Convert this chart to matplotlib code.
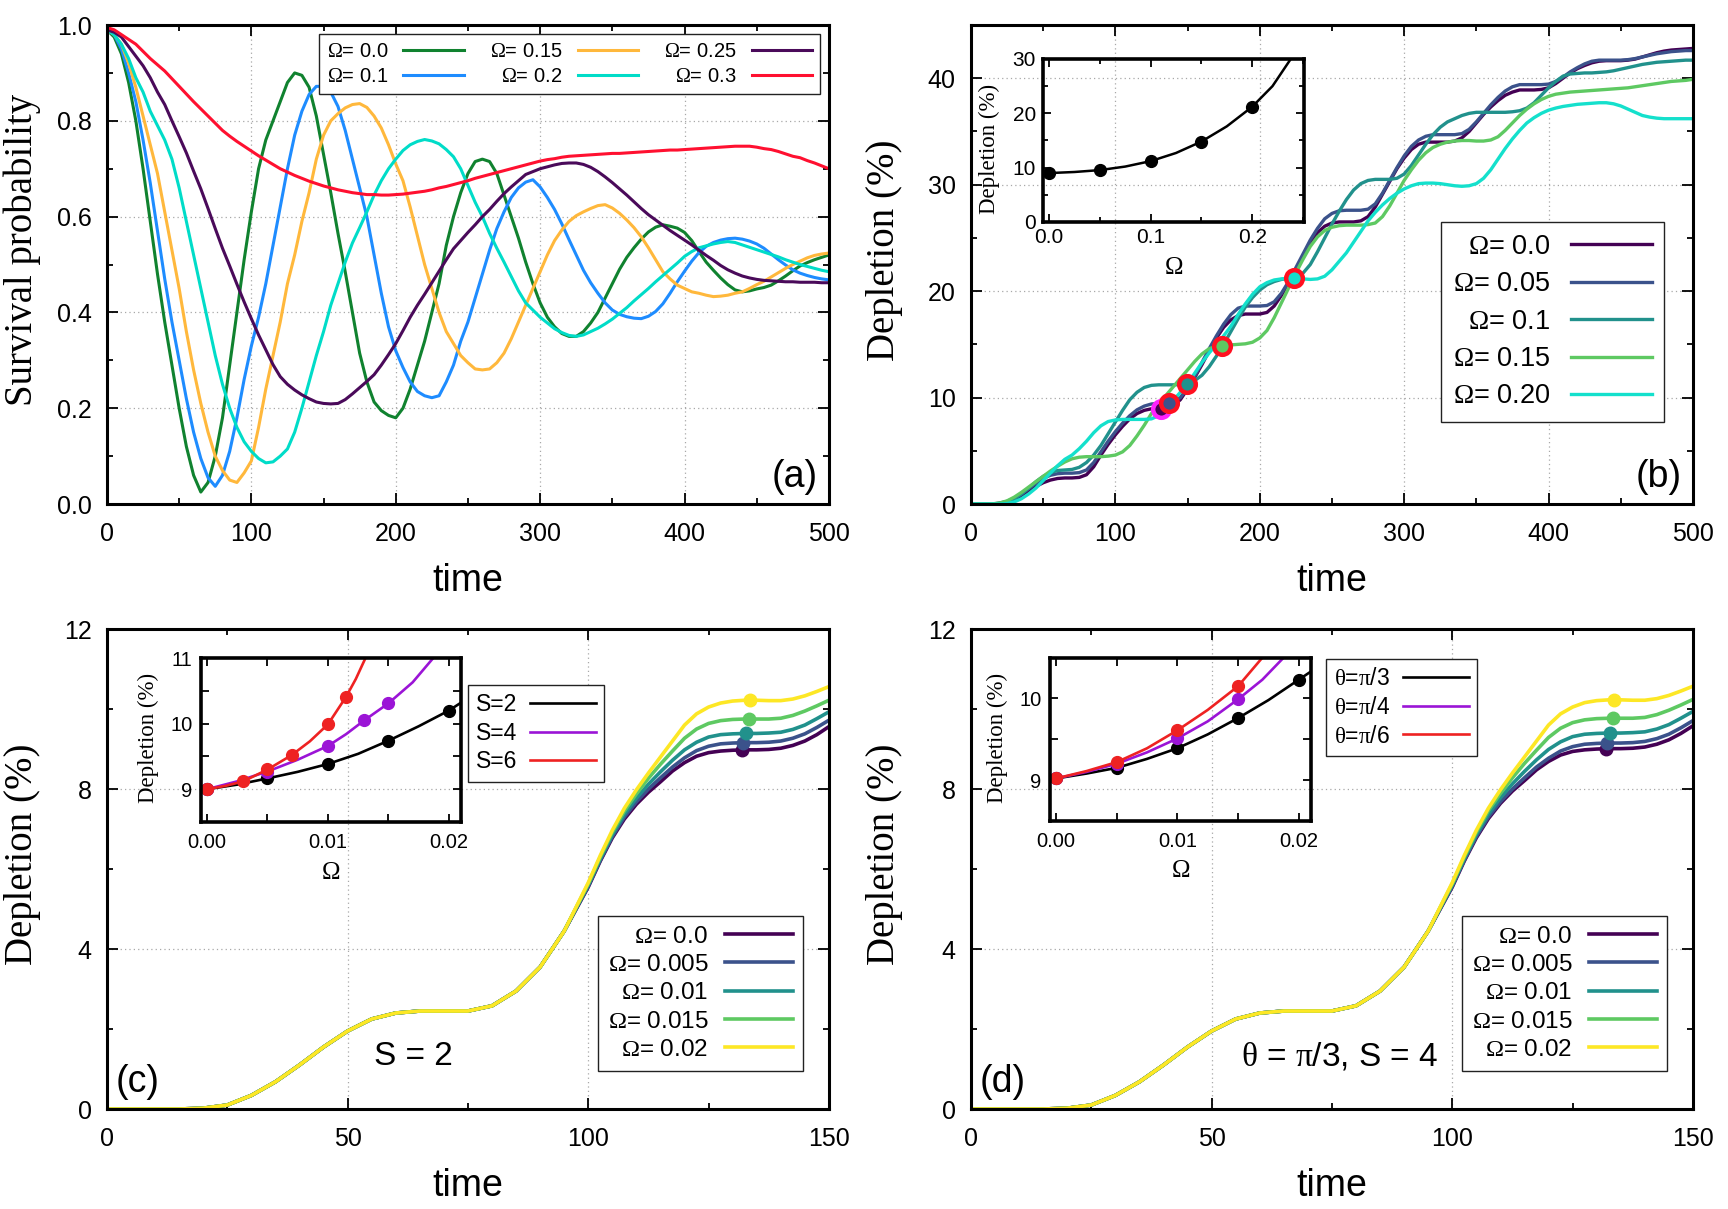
import numpy as np
import matplotlib
matplotlib.use('Agg')
import matplotlib.pyplot as plt
from matplotlib.ticker import MultipleLocator, FormatStrFormatter

plt.rcParams['font.family'] = ['Liberation Sans', 'DejaVu Sans']
plt.rcParams['mathtext.fontset'] = 'custom'
plt.rcParams['mathtext.rm'] = 'Liberation Serif'
plt.rcParams['mathtext.it'] = 'Liberation Serif:italic'
SERIF = ['Liberation Serif', 'DejaVu Serif']

# ---------------- panel (a): survival probability ----------------
time_a = np.arange(0, 501, 5)
omega_a = ['0.0', '0.1', '0.15', '0.2', '0.25', '0.3']
colors_a = ['#10822f', '#1e8cff', '#ffb83c', '#00dcc8', '#4a0a5a', '#ff1030']

surv_00 = [0.99, 0.975, 0.94, 0.88, 0.80, 0.70, 0.59, 0.48, 0.38, 0.29,
           0.20, 0.12, 0.06, 0.025, 0.045, 0.10, 0.18, 0.29, 0.40, 0.51,
           0.61, 0.70, 0.76, 0.80, 0.84, 0.88, 0.90, 0.895, 0.87, 0.81,
           0.73, 0.65, 0.565, 0.485, 0.40, 0.315, 0.255, 0.213, 0.195, 0.185,
           0.18, 0.20, 0.24, 0.29, 0.34, 0.40, 0.46, 0.54, 0.60, 0.65,
           0.69, 0.715, 0.72, 0.715, 0.69, 0.645, 0.60, 0.555, 0.505, 0.46,
           0.42, 0.39, 0.37, 0.356, 0.35, 0.35, 0.36, 0.378, 0.40, 0.43,
           0.46, 0.49, 0.515, 0.535, 0.553, 0.568, 0.578, 0.583, 0.58, 0.576,
           0.567, 0.55, 0.527, 0.505, 0.488, 0.472, 0.458, 0.447, 0.443, 0.445,
           0.449, 0.452, 0.457, 0.466, 0.476, 0.487, 0.497, 0.504, 0.51, 0.515,
           0.52]
surv_01 = [0.99, 0.98, 0.95, 0.90, 0.84, 0.76, 0.67, 0.57, 0.47, 0.38,
           0.30, 0.22, 0.15, 0.095, 0.055, 0.037, 0.06, 0.11, 0.18, 0.26,
           0.33, 0.39, 0.46, 0.54, 0.62, 0.70, 0.77, 0.82, 0.855, 0.872,
           0.872, 0.86, 0.83, 0.78, 0.72, 0.66, 0.60, 0.52, 0.44, 0.37,
           0.32, 0.285, 0.255, 0.235, 0.226, 0.222, 0.226, 0.255, 0.29, 0.34,
           0.38, 0.43, 0.48, 0.53, 0.575, 0.61, 0.64, 0.66, 0.672, 0.677,
           0.662, 0.64, 0.615, 0.585, 0.552, 0.52, 0.488, 0.462, 0.44, 0.42,
           0.405, 0.396, 0.391, 0.388, 0.387, 0.392, 0.402, 0.418, 0.44, 0.464,
           0.486, 0.507, 0.525, 0.538, 0.546, 0.551, 0.554, 0.555, 0.553, 0.549,
           0.543, 0.534, 0.522, 0.51, 0.499, 0.489, 0.482, 0.477, 0.473, 0.47,
           0.468]
surv_015 = [0.99, 0.98, 0.96, 0.92, 0.87, 0.81, 0.75, 0.69, 0.61, 0.53,
            0.45, 0.36, 0.28, 0.21, 0.15, 0.10, 0.07, 0.05, 0.045, 0.065,
            0.09, 0.16, 0.24, 0.31, 0.38, 0.46, 0.52, 0.59, 0.65, 0.72,
            0.77, 0.80, 0.815, 0.827, 0.834, 0.836, 0.828, 0.81, 0.785, 0.75,
            0.71, 0.675, 0.62, 0.56, 0.50, 0.45, 0.40, 0.36, 0.335, 0.31,
            0.295, 0.282, 0.28, 0.282, 0.295, 0.315, 0.345, 0.38, 0.415, 0.45,
            0.485, 0.52, 0.55, 0.572, 0.59, 0.602, 0.61, 0.617, 0.623, 0.625,
            0.618, 0.607, 0.593, 0.577, 0.558, 0.535, 0.51, 0.485, 0.47, 0.457,
            0.45, 0.443, 0.44, 0.436, 0.433, 0.434, 0.436, 0.44, 0.443, 0.45,
            0.458, 0.465, 0.474, 0.483, 0.492, 0.50, 0.507, 0.514, 0.519, 0.522,
            0.524]
surv_02 = [0.99, 0.98, 0.96, 0.93, 0.89, 0.86, 0.82, 0.79, 0.76, 0.72,
           0.66, 0.59, 0.52, 0.45, 0.38, 0.31, 0.25, 0.20, 0.16, 0.13,
           0.11, 0.095, 0.086, 0.088, 0.10, 0.115, 0.15, 0.20, 0.255, 0.31,
           0.36, 0.415, 0.46, 0.505, 0.545, 0.577, 0.61, 0.645, 0.675, 0.70,
           0.72, 0.738, 0.75, 0.757, 0.761, 0.758, 0.752, 0.74, 0.725, 0.70,
           0.665, 0.63, 0.60, 0.565, 0.534, 0.505, 0.475, 0.445, 0.42, 0.405,
           0.39, 0.378, 0.366, 0.358, 0.352, 0.35, 0.353, 0.36, 0.367, 0.376,
           0.386, 0.398, 0.41, 0.424, 0.437, 0.45, 0.464, 0.477, 0.49, 0.503,
           0.517, 0.527, 0.535, 0.539, 0.543, 0.546, 0.548, 0.546, 0.541, 0.536,
           0.531, 0.526, 0.521, 0.516, 0.51, 0.505, 0.50, 0.496, 0.492, 0.488,
           0.485]
surv_025 = [0.99, 0.985, 0.975, 0.955, 0.935, 0.915, 0.89, 0.86, 0.834, 0.80,
            0.767, 0.733, 0.695, 0.658, 0.617, 0.575, 0.534, 0.497, 0.459, 0.422,
            0.387, 0.353, 0.322, 0.291, 0.266, 0.25, 0.238, 0.228, 0.22, 0.213,
            0.21, 0.209, 0.21, 0.218, 0.23, 0.243, 0.256, 0.27, 0.29, 0.312,
            0.335, 0.362, 0.39, 0.415, 0.438, 0.462, 0.486, 0.51, 0.533, 0.55,
            0.567, 0.583, 0.60, 0.615, 0.632, 0.648, 0.662, 0.675, 0.688, 0.694,
            0.70, 0.704, 0.708, 0.711, 0.712, 0.712, 0.709, 0.703, 0.694, 0.683,
            0.671, 0.658, 0.645, 0.631, 0.617, 0.604, 0.593, 0.582, 0.571, 0.561,
            0.551, 0.541, 0.53, 0.519, 0.509, 0.498, 0.489, 0.482, 0.476, 0.472,
            0.469, 0.467, 0.466, 0.465, 0.464, 0.464, 0.463, 0.463, 0.463, 0.462,
            0.462]
surv_03 = [0.995, 0.99, 0.98, 0.97, 0.96, 0.945, 0.93, 0.917, 0.904, 0.888,
           0.872, 0.856, 0.84, 0.825, 0.81, 0.795, 0.78, 0.768, 0.757, 0.747,
           0.737, 0.727, 0.718, 0.709, 0.70, 0.693, 0.686, 0.68, 0.674, 0.669,
           0.664, 0.66, 0.656, 0.653, 0.65, 0.648, 0.646, 0.646, 0.645, 0.645,
           0.646, 0.647, 0.649, 0.651, 0.653, 0.656, 0.66, 0.663, 0.667, 0.671,
           0.675, 0.68, 0.684, 0.688, 0.692, 0.696, 0.70, 0.704, 0.708, 0.712,
           0.716, 0.719, 0.721, 0.724, 0.726, 0.727, 0.728, 0.729, 0.73, 0.731,
           0.732, 0.732, 0.733, 0.734, 0.735, 0.736, 0.737, 0.738, 0.739, 0.739,
           0.74, 0.741, 0.742, 0.743, 0.744, 0.745, 0.746, 0.747, 0.747, 0.747,
           0.745, 0.742, 0.74, 0.736, 0.731, 0.726, 0.723, 0.717, 0.712, 0.706,
           0.70]

# ---------------- panel (b): depletion, large Omega ----------------
time_b = np.arange(0, 501, 5)
omega_b = ['0.0', '0.05', '0.1', '0.15', '0.20']
colors_b = ['#440154', '#3b528b', '#21918c', '#5ec962', '#14e0cc']

dep_b_00 = [0, 0, 0, 0, 0.05, 0.15, 0.4, 0.8, 1.25, 1.65,
            2.0, 2.25, 2.4, 2.45, 2.45, 2.5, 2.75, 3.5, 4.6, 5.6,
            6.5, 7.3, 8.0, 8.5, 8.8, 8.95, 8.95, 9.0, 9.2, 9.8,
            10.8, 11.9, 13.1, 14.4, 15.6, 16.6, 17.3, 17.7, 17.85, 17.85,
            17.85, 18.0, 18.6, 19.6, 20.8, 22.0, 23.3, 24.5, 25.5, 26.1,
            26.4, 26.5, 26.5, 26.5, 26.6, 27.0, 27.9, 29.1, 30.3, 31.5,
            32.5, 33.3, 33.8, 34.0, 34.0, 34.0, 34.0, 34.1, 34.4, 35.0,
            35.8, 36.6, 37.3, 37.9, 38.4, 38.7, 38.9, 38.9, 38.9, 38.95,
            39.1, 39.5, 40.0, 40.5, 40.9, 41.2, 41.45, 41.6, 41.65, 41.65,
            41.65, 41.7, 41.8, 42.0, 42.2, 42.4, 42.55, 42.65, 42.7, 42.75,
            42.8]
dep_b_005 = [0, 0, 0, 0, 0.1, 0.25, 0.55, 0.95, 1.45, 1.95,
             2.4, 2.7, 2.85, 2.9, 2.9, 2.95, 3.2, 3.9, 4.9, 5.9,
             6.8, 7.6, 8.3, 8.85, 9.2, 9.4, 9.45, 9.5, 9.6, 10.0,
             10.9, 12.0, 13.3, 14.6, 15.8, 16.9, 17.8, 18.4, 18.6, 18.6,
             18.6, 18.65, 19.0, 19.8, 20.9, 22.2, 23.5, 24.8, 25.9, 26.8,
             27.3, 27.55, 27.6, 27.6, 27.6, 27.7, 28.2, 29.2, 30.4, 31.6,
             32.7, 33.6, 34.2, 34.55, 34.7, 34.7, 34.7, 34.7, 34.8, 35.2,
             35.9, 36.7, 37.5, 38.2, 38.8, 39.2, 39.4, 39.4, 39.4, 39.4,
             39.45, 39.7, 40.1, 40.6, 41.0, 41.35, 41.6, 41.7, 41.7, 41.7,
             41.7, 41.75, 41.85, 42.0, 42.15, 42.3, 42.4, 42.5, 42.55, 42.6,
             42.6]
dep_b_01 = [0, 0, 0, 0, 0.05, 0.2, 0.5, 0.95, 1.5, 2.1,
            2.6, 2.95, 3.15, 3.2, 3.25, 3.45, 3.9, 4.6, 5.5, 6.6,
            7.7, 8.8, 9.8, 10.5, 10.95, 11.15, 11.2, 11.2, 11.2, 11.22,
            11.3, 11.6, 12.1, 12.9, 13.9, 15.0, 16.2, 17.4, 18.5, 19.4,
            20.1, 20.6, 20.9, 21.1, 21.2, 21.35, 21.7, 22.5, 23.7, 25.0,
            26.3, 27.5, 28.6, 29.5, 30.1, 30.4, 30.5, 30.5, 30.5, 30.6,
            31.0, 31.8, 32.8, 33.8, 34.7, 35.4, 35.9, 36.2, 36.5, 36.7,
            36.8, 36.8, 36.8, 36.8, 36.8, 36.85, 36.95, 37.2, 37.7, 38.4,
            39.1, 39.7, 40.2, 40.4, 40.45, 40.5, 40.5, 40.55, 40.6, 40.7,
            40.85, 41.0, 41.15, 41.3, 41.4, 41.5, 41.55, 41.6, 41.65, 41.7,
            41.7]
dep_b_015 = [0, 0, 0, 0.02, 0.1, 0.3, 0.65, 1.1, 1.6, 2.1,
             2.6, 3.1, 3.55, 3.95, 4.25, 4.4, 4.45, 4.45, 4.45, 4.5,
             4.6, 4.9, 5.5, 6.4, 7.4, 8.5, 9.4, 10.2, 11.0, 11.8,
             12.6, 13.4, 14.1, 14.6, 14.8, 14.9, 14.95, 15.0, 15.05, 15.2,
             15.6, 16.3, 17.5, 18.9, 20.3, 21.7, 23.0, 24.2, 25.1, 25.7,
             26.0, 26.15, 26.2, 26.2, 26.2, 26.25, 26.4, 27.0, 28.0, 29.2,
             30.4, 31.4, 32.3, 33.0, 33.5, 33.8, 34.0, 34.1, 34.15, 34.15,
             34.1, 34.1, 34.2, 34.5, 35.1, 35.8, 36.5, 37.1, 37.6, 38.0,
             38.3, 38.5, 38.6, 38.7, 38.75, 38.8, 38.85, 38.9, 38.95, 39.0,
             39.05, 39.1, 39.2, 39.3, 39.4, 39.5, 39.6, 39.7, 39.75, 39.8,
             39.9]
dep_b_020 = [0, 0, 0, 0, 0, 0.05, 0.2, 0.5, 0.95, 1.5,
             2.2, 2.9, 3.6, 4.2, 4.6, 5.2, 5.9, 6.7, 7.35, 7.75,
             7.9, 7.95, 7.95, 7.95, 7.95, 8.0, 8.3, 8.9, 9.7, 10.5,
             11.3, 12.3, 13.3, 14.2, 15.0, 15.8, 16.7, 17.8, 18.8, 19.7,
             20.4, 20.8, 21.05, 21.15, 21.2, 21.2, 21.15, 21.1, 21.15, 21.4,
             22.0, 22.8, 23.6, 24.6, 25.6, 26.6, 27.4, 28.1, 28.7, 29.2,
             29.6, 29.9, 30.1, 30.15, 30.15, 30.1, 30.0, 29.9, 29.85, 29.9,
             30.1, 30.6, 31.4, 32.4, 33.4, 34.3, 35.1, 35.8, 36.3, 36.7,
             37.0, 37.2, 37.35, 37.45, 37.55, 37.6, 37.65, 37.7, 37.7, 37.6,
             37.4, 37.1, 36.8, 36.5, 36.35, 36.25, 36.2, 36.2, 36.2, 36.2,
             36.2]

# ringed points on the curves of (b)
ring_t_b = [131.6, 137.0, 149.6, 174.0, 224.0]
ring_v_b = [8.95, 9.5, 11.25, 14.8, 21.2]
ring_edge_b = ['#ff22ff', '#ff1020', '#ff1020', '#ff1020', '#ff1020']

# inset of (b)
om_inset_b = [0.0, 0.05, 0.1, 0.15, 0.2]
dep_inset_b = [9.06, 9.56, 11.2, 14.8, 21.2]
om_fit_b = [0.0, 0.025, 0.05, 0.075, 0.1, 0.125, 0.15, 0.175, 0.2, 0.22, 0.238]
dep_fit_b = [9.0, 9.2, 9.55, 10.2, 11.2, 12.7, 14.8, 17.6, 21.2, 25.0, 30.0]

# ---------------- panels (c), (d): depletion, small Omega ----------------
time_rise = np.arange(0, 100, 5)
time_tail = np.arange(100, 150.1, 2.5)
omega_cd = ['0.0', '0.005', '0.01', '0.015', '0.02']
colors_cd = ['#440154', '#3b528b', '#21918c', '#5ec962', '#fde725']
rise_cd = [0, 0, 0, 0, 0.02, 0.1, 0.34, 0.68, 1.1, 1.55,
           1.95, 2.25, 2.4, 2.45, 2.45, 2.45, 2.58, 2.95, 3.55, 4.45]

tail_c_0 = [5.55, 6.2, 6.78, 7.25, 7.62, 7.92, 8.18, 8.45, 8.66, 8.82, 8.91,
            8.95, 8.97, 8.98, 8.98, 8.99, 9.02, 9.09, 9.2, 9.36, 9.56]
tail_c_1 = [5.57, 6.22, 6.81, 7.3, 7.68, 8.0, 8.28, 8.55, 8.78, 8.96, 9.07,
            9.13, 9.15, 9.16, 9.16, 9.17, 9.2, 9.27, 9.38, 9.54, 9.72]
tail_c_2 = [5.6, 6.26, 6.86, 7.37, 7.77, 8.12, 8.43, 8.72, 8.98, 9.17, 9.3,
            9.36, 9.38, 9.39, 9.39, 9.4, 9.42, 9.49, 9.6, 9.76, 9.93]
tail_c_3 = [5.63, 6.3, 6.92, 7.45, 7.88, 8.27, 8.62, 8.95, 9.27, 9.5, 9.64,
            9.71, 9.74, 9.75, 9.75, 9.75, 9.77, 9.84, 9.95, 10.08, 10.22]
tail_c_4 = [5.66, 6.34, 6.97, 7.52, 7.98, 8.4, 8.8, 9.2, 9.6, 9.88, 10.05,
            10.15, 10.2, 10.22, 10.22, 10.21, 10.21, 10.25, 10.33, 10.44, 10.56]

tail_d_0 = [5.55, 6.2, 6.78, 7.26, 7.64, 7.95, 8.21, 8.48, 8.69, 8.85, 8.94,
            8.98, 9.0, 9.01, 9.01, 9.02, 9.05, 9.12, 9.23, 9.39, 9.58]
tail_d_1 = [5.57, 6.22, 6.81, 7.3, 7.68, 8.0, 8.28, 8.55, 8.77, 8.95, 9.06,
            9.12, 9.14, 9.15, 9.15, 9.16, 9.19, 9.26, 9.37, 9.53, 9.71]
tail_d_2 = [5.6, 6.26, 6.86, 7.37, 7.78, 8.13, 8.44, 8.73, 8.99, 9.18, 9.31,
            9.37, 9.39, 9.4, 9.4, 9.41, 9.43, 9.5, 9.61, 9.77, 9.94]
tail_d_3 = [5.63, 6.3, 6.92, 7.46, 7.89, 8.28, 8.64, 8.97, 9.29, 9.52, 9.66,
            9.73, 9.76, 9.77, 9.77, 9.77, 9.79, 9.86, 9.97, 10.1, 10.24]
tail_d_4 = [5.66, 6.34, 6.97, 7.52, 7.98, 8.4, 8.8, 9.2, 9.6, 9.88, 10.05,
            10.16, 10.21, 10.23, 10.23, 10.22, 10.22, 10.26, 10.34, 10.45, 10.57]

mark_t_cd = [131.9, 132.2, 132.7, 133.3, 133.6]
mark_v_c = [8.97, 9.16, 9.39, 9.75, 10.22]
mark_v_d = [9.0, 9.15, 9.39, 9.77, 10.23]

# inset of (c): different S
s_labels = ['S=2', 'S=4', 'S=6']
s_colors = ['black', '#9b14d6', '#ee2222']
om_pts_s2 = [0.0, 0.005, 0.01, 0.015, 0.02]
dep_pts_s2 = [9.0, 9.165, 9.385, 9.74, 10.2]
om_pts_s4 = [0.0, 0.005, 0.01, 0.013, 0.015]
dep_pts_s4 = [9.0, 9.27, 9.66, 10.05, 10.31]
om_pts_s6 = [0.0, 0.003, 0.005, 0.007, 0.01, 0.0115]
dep_pts_s6 = [9.0, 9.12, 9.31, 9.52, 9.99, 10.41]
om_fit_s2 = [0.0, 0.0025, 0.005, 0.0075, 0.01, 0.0125, 0.015, 0.0175, 0.02, 0.021]
dep_fit_s2 = [9.0, 9.07, 9.165, 9.265, 9.385, 9.54, 9.74, 9.96, 10.2, 10.32]
om_fit_s4 = [0.0, 0.0025, 0.005, 0.0075, 0.01, 0.0115, 0.013, 0.015, 0.017, 0.0187]
dep_fit_s4 = [9.0, 9.12, 9.27, 9.45, 9.66, 9.84, 10.05, 10.31, 10.63, 11.0]
om_fit_s6 = [0.0, 0.0015, 0.003, 0.005, 0.007, 0.0085, 0.01, 0.0115, 0.0123, 0.0131]
dep_fit_s6 = [9.0, 9.05, 9.12, 9.3, 9.52, 9.73, 9.99, 10.41, 10.68, 11.0]

# inset of (d): different theta
th_labels = [r'$\mathrm{\theta}$=$\mathrm{\pi}$/3', r'$\mathrm{\theta}$=$\mathrm{\pi}$/4',
             r'$\mathrm{\theta}$=$\mathrm{\pi}$/6']
om_pts_t3 = [0.0, 0.005, 0.01, 0.015, 0.02]
dep_pts_t3 = [9.02, 9.15, 9.39, 9.76, 10.23]
om_pts_t46 = [0.0, 0.005, 0.01, 0.015]
dep_pts_t4 = [9.02, 9.2, 9.51, 9.99]
dep_pts_t6 = [9.02, 9.22, 9.61, 10.15]
om_fit_t3 = [0.0, 0.0025, 0.005, 0.0075, 0.01, 0.0125, 0.015, 0.0175, 0.02, 0.021]
dep_fit_t3 = [9.02, 9.08, 9.15, 9.26, 9.39, 9.56, 9.76, 9.98, 10.23, 10.33]
om_fit_t4 = [0.0, 0.0025, 0.005, 0.0075, 0.01, 0.0125, 0.015, 0.017, 0.01875]
dep_fit_t4 = [9.02, 9.1, 9.2, 9.34, 9.51, 9.72, 9.99, 10.23, 10.5]
om_fit_t6 = [0.0, 0.0025, 0.005, 0.0075, 0.01, 0.0125, 0.015, 0.017]
dep_fit_t6 = [9.02, 9.11, 9.22, 9.39, 9.61, 9.86, 10.15, 10.5]


def style(ax, xmaj, xmin, ymaj, ymin, size, lw=2.2, grid=True, pad=(13, 11)):
    ax.xaxis.set_major_locator(MultipleLocator(xmaj))
    ax.xaxis.set_minor_locator(MultipleLocator(xmin))
    ax.yaxis.set_major_locator(MultipleLocator(ymaj))
    ax.yaxis.set_minor_locator(MultipleLocator(ymin))
    ax.tick_params(which='both', direction='in', top=True, right=True,
                   width=1.3, labelsize=size)
    ax.tick_params(which='major', length=8)
    ax.tick_params(which='minor', length=4.5)
    ax.tick_params(axis='x', pad=pad[0])
    ax.tick_params(axis='y', pad=pad[1])
    for s in ax.spines.values():
        s.set_linewidth(lw)
    if grid:
        ax.grid(True, which='major', color='#a8a8a8', linestyle=(0, (1, 2.5)), linewidth=0.9)
        ax.set_axisbelow(True)


def main_labels(ax, ylabel, letter, letter_left):
    ax.set_xlabel('time', fontsize=27)
    ax.xaxis.set_label_coords(0.5, -0.123)
    ax.set_ylabel(ylabel, fontsize=28, family=SERIF)
    ax.yaxis.set_label_coords(-0.092, 0.53)
    if letter_left:
        ax.text(0.012, 0.035, letter, transform=ax.transAxes, fontsize=27, ha='left', va='baseline')
    else:
        ax.text(0.985, 0.035, letter, transform=ax.transAxes, fontsize=27, ha='right', va='baseline')


def legend_box(ax, **kw):
    leg = ax.legend(markerfirst=False, fancybox=False, framealpha=1, borderaxespad=0, **kw)
    leg.get_frame().set_linewidth(1.0)
    leg.get_frame().set_edgecolor('#222222')
    return leg


fig = plt.figure(figsize=(17.28, 12.09), dpi=100)

# (a)
ax_a = fig.add_axes([0.0619, 0.5831, 0.4178, 0.3962])
for lab, col, vals in zip(omega_a, colors_a, [surv_00, surv_01, surv_015, surv_02, surv_025, surv_03]):
    ax_a.plot(time_a, vals, color=col, lw=2.2, label=r'$\Omega$= ' + lab)
ax_a.set_xlim(0, 500)
ax_a.set_ylim(0, 1)
style(ax_a, 100, 50, 0.2, 0.1, 18)
ax_a.yaxis.set_major_formatter(FormatStrFormatter('%.1f'))
main_labels(ax_a, 'Survival probability', '(a)', False)
legend_box(ax_a, loc='upper right', bbox_to_anchor=(0.988, 0.981), ncol=3, fontsize=14.5,
           handlelength=3.0, handletextpad=0.75, columnspacing=1.3, labelspacing=0.3, borderpad=0.4)

# (b)
ax_b = fig.add_axes([0.5619, 0.5831, 0.4178, 0.3962])
for lab, col, vals in zip(omega_b, colors_b, [dep_b_00, dep_b_005, dep_b_01, dep_b_015, dep_b_020]):
    ax_b.plot(time_b, vals, color=col, lw=2.4, label=r'$\Omega$= ' + lab)
for t, v, c, e in zip(ring_t_b, ring_v_b, colors_b, ring_edge_b):
    ax_b.plot([t], [v], 'o', ms=12, mfc=c, mec=e, mew=3.2, zorder=5)
ax_b.set_xlim(0, 500)
ax_b.set_ylim(0, 45)
style(ax_b, 100, 50, 10, 5, 18)
main_labels(ax_b, 'Depletion (%)', '(b)', False)
ax_b.yaxis.set_label_coords(-0.094, 0.53)
legend_box(ax_b, loc='lower right', bbox_to_anchor=(0.96, 0.172), fontsize=19.5,
           handlelength=3.0, handletextpad=0.75, labelspacing=0.42, borderpad=0.45)

ins_b = fig.add_axes([0.6036, 0.8164, 0.151, 0.1348])
ins_b.patch.set_alpha(0)
ins_b.plot(om_fit_b, dep_fit_b, color='black', lw=1.8)
ins_b.plot(om_inset_b, dep_inset_b, 'o', color='black', ms=8.5)
ins_b.set_xlim(-0.006, 0.251)
ins_b.set_ylim(0, 30)
style(ins_b, 0.1, 0.05, 10, 5, 15, lw=2.6, grid=False, pad=(4, 5))
ins_b.tick_params(which='major', length=6)
ins_b.tick_params(which='minor', length=3.5)
ins_b.xaxis.set_major_formatter(FormatStrFormatter('%.1f'))
ins_b.set_ylabel('Depletion (%)', fontsize=16.5, family=SERIF)
ins_b.yaxis.set_label_coords(-0.165, 0.45)
ins_b.set_xlabel(r'$\Omega$', fontsize=18)
ins_b.xaxis.set_label_coords(0.5, -0.2)

# (c) and (d)
tails_c = [tail_c_0, tail_c_1, tail_c_2, tail_c_3, tail_c_4]
tails_d = [tail_d_0, tail_d_1, tail_d_2, tail_d_3, tail_d_4]
time_cd = np.concatenate([time_rise, time_tail])
panels = [(0.0619, tails_c, mark_v_c, '(c)', 'S = 2', 0.424),
          (0.5619, tails_d, mark_v_d, '(d)', r'$\mathrm{\theta}$ = $\mathrm{\pi}$/3, S = 4', 0.511)]
main_axes = []
for left, tails, mv, letter, note, note_x in panels:
    ax = fig.add_axes([left, 0.0827, 0.4178, 0.397])
    for lab, col, tail in zip(omega_cd, colors_cd, tails):
        ax.plot(time_cd, rise_cd + tail, color=col, lw=2.6, label=r'$\Omega$= ' + lab)
    for t, v, col in zip(mark_t_cd, mv, colors_cd):
        ax.plot([t], [v], 'o', color=col, ms=9, zorder=5)
    ax.set_xlim(0, 150)
    ax.set_ylim(0, 12)
    style(ax, 50, 25, 4, 2, 18)
    main_labels(ax, 'Depletion (%)', letter, True)
    ax.text(note_x, 0.11, note, transform=ax.transAxes, fontsize=24, ha='center', va='center')
    legend_box(ax, loc='lower right', bbox_to_anchor=(0.964, 0.08), fontsize=17.5,
               handlelength=2.8, handletextpad=0.7, labelspacing=0.26, borderpad=0.4)
    main_axes.append(ax)
main_axes[1].yaxis.set_label_coords(-0.094, 0.53)

# inset of (c)
ins_c = fig.add_axes([0.1163, 0.3201, 0.1505, 0.1356])
ins_c.patch.set_alpha(0)
for ox, dy, px, py, col, lab in [(om_fit_s2, dep_fit_s2, om_pts_s2, dep_pts_s2, s_colors[0], s_labels[0]),
                                 (om_fit_s4, dep_fit_s4, om_pts_s4, dep_pts_s4, s_colors[1], s_labels[1]),
                                 (om_fit_s6, dep_fit_s6, om_pts_s6, dep_pts_s6, s_colors[2], s_labels[2])]:
    ins_c.plot(ox, dy, color=col, lw=1.9, label=lab)
    ins_c.plot(px, py, 'o', color=col, ms=8.5)
ins_c.set_xlim(-0.0005, 0.021)
ins_c.set_ylim(8.5, 11)

# inset of (d)
ins_d = fig.add_axes([0.6076, 0.321, 0.151, 0.135])
ins_d.patch.set_alpha(0)
for ox, dy, px, py, col, lab in [(om_fit_t3, dep_fit_t3, om_pts_t3, dep_pts_t3, s_colors[0], th_labels[0]),
                                 (om_fit_t4, dep_fit_t4, om_pts_t46, dep_pts_t4, s_colors[1], th_labels[1]),
                                 (om_fit_t6, dep_fit_t6, om_pts_t46, dep_pts_t6, s_colors[2], th_labels[2])]:
    ins_d.plot(ox, dy, color=col, lw=1.9, label=lab)
    ins_d.plot(px, py, 'o', color=col, ms=8.5)
ins_d.set_xlim(-0.0005, 0.021)
ins_d.set_ylim(8.5, 10.5)

for ins, anchor in [(ins_c, (0.2708, 0.4334)), (ins_d, (0.7674, 0.4549))]:
    style(ins, 0.01, 0.005, 1, 0.5, 14.5, lw=2.6, grid=False, pad=(8, 6))
    ins.tick_params(which='major', length=6)
    ins.tick_params(which='minor', length=6)
    ins.xaxis.set_major_formatter(FormatStrFormatter('%.2f'))
    ins.set_ylabel('Depletion (%)', fontsize=16.5, family=SERIF)
    ins.yaxis.set_label_coords(-0.16, 0.51)
    ins.set_xlabel(r'$\Omega$', fontsize=18)
    ins.xaxis.set_label_coords(0.5, -0.23)
    lg = ins.legend(loc='upper left', bbox_to_anchor=anchor, bbox_transform=fig.transFigure,
                    markerfirst=False, fancybox=False, framealpha=1, borderaxespad=0, fontsize=16.5,
                    handlelength=2.9, handletextpad=0.55, labelspacing=0.25, borderpad=0.35)
    lg.get_frame().set_linewidth(1.0)
    lg.get_frame().set_edgecolor('#222222')

fig.savefig('out.png', dpi=100)
